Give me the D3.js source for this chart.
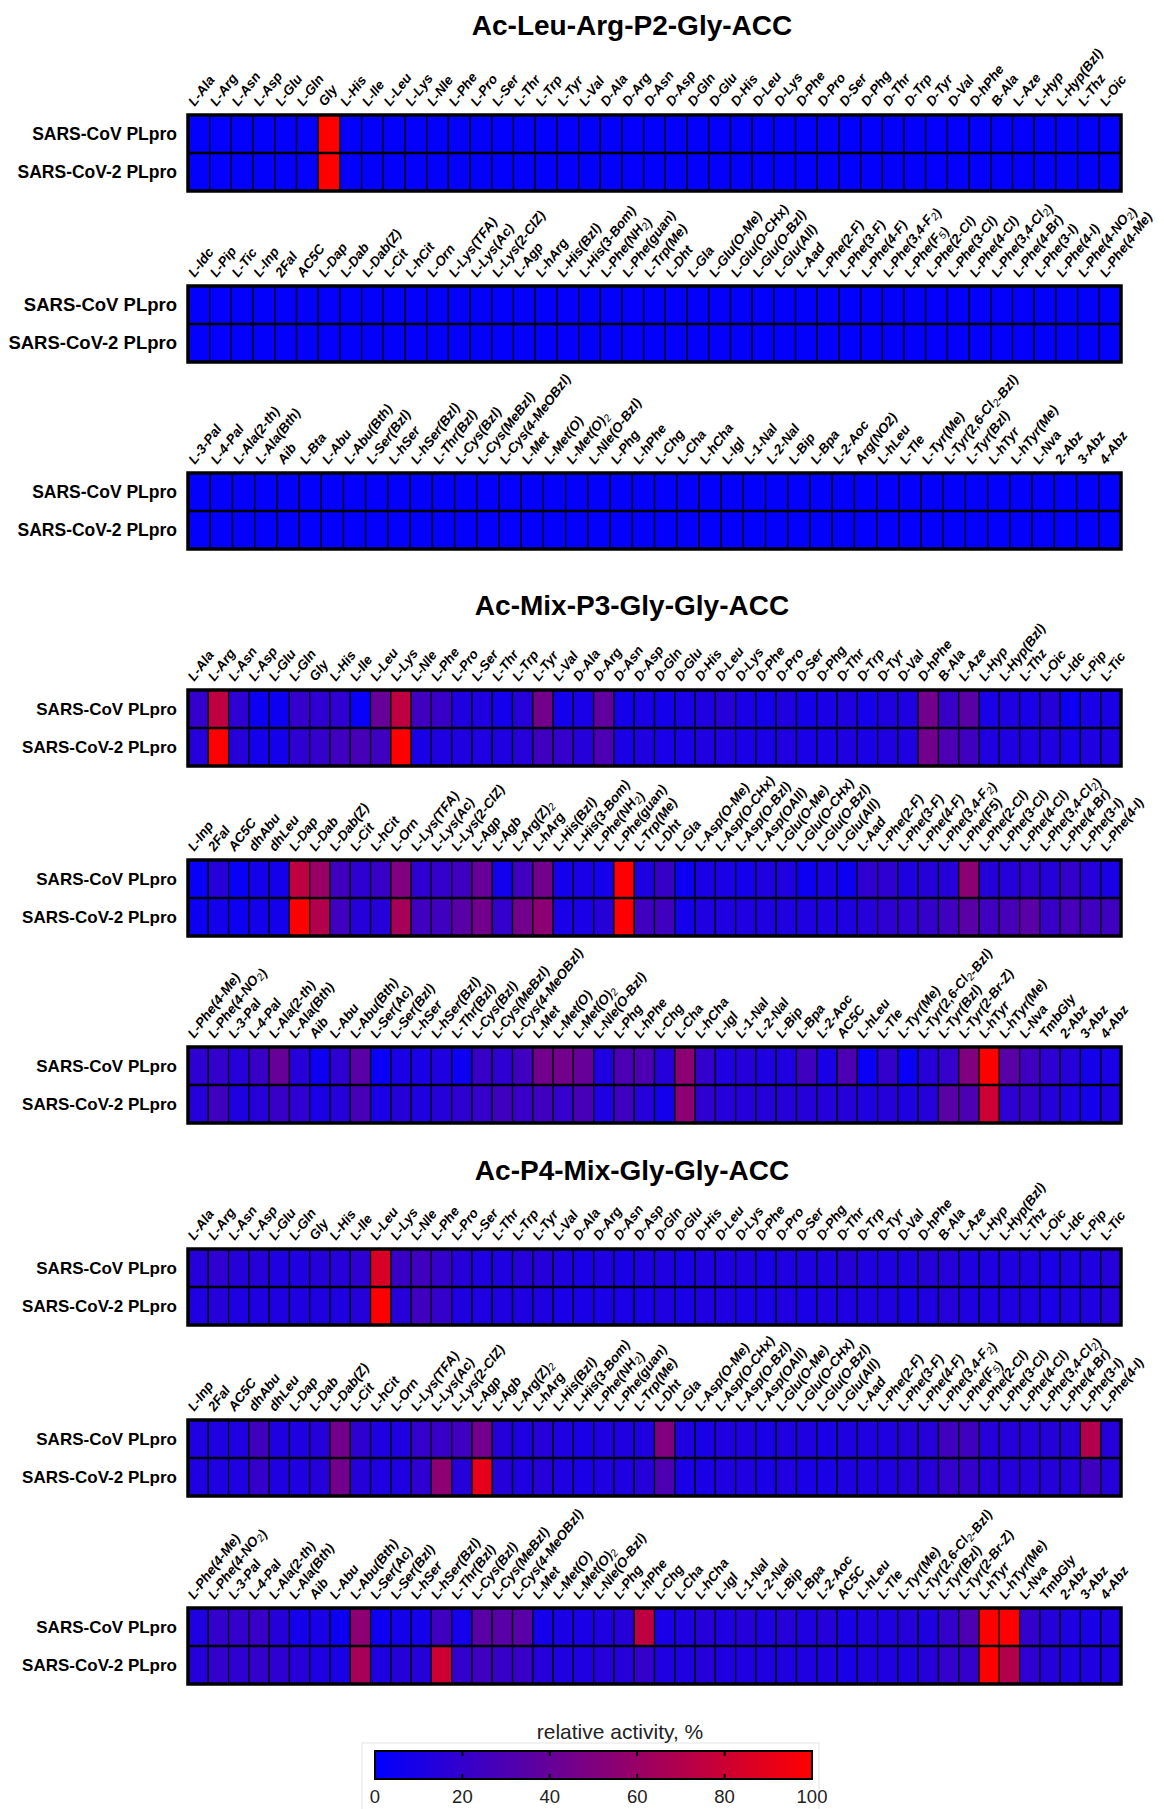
<!DOCTYPE html>
<html><head><meta charset="utf-8">
<script src="https://cdn.jsdelivr.net/npm/d3@7"></script>
<style>body{margin:0;background:#fff;} svg{display:block;}</style>
</head><body>
<script>
// ---------- DATA ----------
const enzymes = ["SARS-CoV PLpro", "SARS-CoV-2 PLpro"];
const titles = ["Ac-Leu-Arg-P2-Gly-ACC", "Ac-Mix-P3-Gly-Gly-ACC", "Ac-P4-Mix-Gly-Gly-ACC"];

const catsP2a = ["L-Ala","L-Arg","L-Asn","L-Asp","L-Glu","L-Gln","Gly","L-His","L-Ile","L-Leu","L-Lys","L-Nle","L-Phe","L-Pro","L-Ser","L-Thr","L-Trp","L-Tyr","L-Val","D-Ala","D-Arg","D-Asn","D-Asp","D-Gln","D-Glu","D-His","D-Leu","D-Lys","D-Phe","D-Pro","D-Ser","D-Phg","D-Thr","D-Trp","D-Tyr","D-Val","D-hPhe","B-Ala","L-Aze","L-Hyp","L-Hyp(Bzl)","L-Thz","L-Oic"];
const catsP2b = ["L-Idc","L-Pip","L-Tic","L-Inp","2Fal","AC5C","L-Dap","L-Dab","L-Dab(Z)","L-Cit","L-hCit","L-Orn","L-Lys(TFA)","L-Lys(Ac)","L-Lys(2-ClZ)","L-Agp","L-hArg","L-His(Bzl)","L-His(3-Bom)","L-Phe(NH_2)","L-Phe(guan)","L-Trp(Me)","L-Dht","L-Gla","L-Glu(O-Me)","L-Glu(O-CHx)","L-Glu(O-Bzl)","L-Glu(All)","L-Aad","L-Phe(2-F)","L-Phe(3-F)","L-Phe(4-F)","L-Phe(3,4-F_2)","L-Phe(F_5)","L-Phe(2-Cl)","L-Phe(3-Cl)","L-Phe(4-Cl)","L-Phe(3,4-Cl_2)","L-Phe(4-Br)","L-Phe(3-I)","L-Phe(4-I)","L-Phe(4-NO_2)","L-Phe(4-Me)"];
const catsP2c = ["L-3-Pal","L-4-Pal","L-Ala(2-th)","L-Ala(Bth)","Aib","L-Bta","L-Abu","L-Abu(Bth)","L-Ser(Bzl)","L-hSer","L-hSer(Bzl)","L-Thr(Bzl)","L-Cys(Bzl)","L-Cys(MeBzl)","L-Cys(4-MeOBzl)","L-Met","L-Met(O)","L-Met(O)_2","L-Nle(O-Bzl)","L-Phg","L-hPhe","L-Chg","L-Cha","L-hCha","L-Igl","L-1-Nal","L-2-Nal","L-Bip","L-Bpa","L-2-Aoc","Arg(NO2)","L-hLeu","L-Tle","L-Tyr(Me)","L-Tyr(2,6-Cl_2-Bzl)","L-Tyr(Bzl)","L-hTyr","L-hTyr(Me)","L-Nva","2-Abz","3-Abz","4-Abz"];
const catsMixA = ["L-Ala","L-Arg","L-Asn","L-Asp","L-Glu","L-Gln","Gly","L-His","L-Ile","L-Leu","L-Lys","L-Nle","L-Phe","L-Pro","L-Ser","L-Thr","L-Trp","L-Tyr","L-Val","D-Ala","D-Arg","D-Asn","D-Asp","D-Gln","D-Glu","D-His","D-Leu","D-Lys","D-Phe","D-Pro","D-Ser","D-Phg","D-Thr","D-Trp","D-Tyr","D-Val","D-hPhe","B-Ala","L-Aze","L-Hyp","L-Hyp(Bzl)","L-Thz","L-Oic","L-Idc","L-Pip","L-Tic"];
const catsMixB = ["L-Inp","2Fal","AC5C","dhAbu","dhLeu","L-Dap","L-Dab","L-Dab(Z)","L-Cit","L-hCit","L-Orn","L-Lys(TFA)","L-Lys(Ac)","L-Lys(2-ClZ)","L-Agp","L-Agb","L-Arg(Z)_2","L-hArg","L-His(Bzl)","L-His(3-Bom)","L-Phe(NH_2)","L-Phe(guan)","L-Trp(Me)","L-Dht","L-Gla","L-Asp(O-Me)","L-Asp(O-CHx)","L-Asp(O-Bzl)","L-Asp(OAll)","L-Glu(O-Me)","L-Glu(O-CHx)","L-Glu(O-Bzl)","L-Glu(All)","L-Aad","L-Phe(2-F)","L-Phe(3-F)","L-Phe(4-F)","L-Phe(3,4-F_2)","L-Phe(F5)","L-Phe(2-Cl)","L-Phe(3-Cl)","L-Phe(4-Cl)","L-Phe(3,4-Cl_2)","L-Phe(4-Br)","L-Phe(3-I)","L-Phe(4-I)"];
const catsMixC = ["L-Phe(4-Me)","L-Phe(4-NO_2)","L-3-Pal","L-4-Pal","L-Ala(2-th)","L-Ala(Bth)","Aib","L-Abu","L-Abu(Bth)","L-Ser(Ac)","L-Ser(Bzl)","L-hSer","L-hSer(Bzl)","L-Thr(Bzl)","L-Cys(Bzl)","L-Cys(MeBzl)","L-Cys(4-MeOBzl)","L-Met","L-Met(O)","L-Met(O)_2","L-Nle(O-Bzl)","L-Phg","L-hPhe","L-Chg","L-Cha","L-hCha","L-Igl","L-1-Nal","L-2-Nal","L-Bip","L-Bpa","L-2-Aoc","AC5C","L-hLeu","L-Tle","L-Tyr(Me)","L-Tyr(2,6-Cl_2-Bzl)","L-Tyr(Bzl)","L-Tyr(2-Br-Z)","L-hTyr","L-hTyr(Me)","L-Nva","TmbGly","2-Abz","3-Abz","4-Abz"];
const catsMixB8 = catsMixB.map(c => c === "L-Phe(F5)" ? "L-Phe(F_5)" : c);

const colorTicks = [0, 20, 40, 60, 80, 100];

// relative activity, % (row 0 = SARS-CoV PLpro, row 1 = SARS-CoV-2 PLpro)
const p2a_cov  = [1,1,1,1,1,1,100,1,1,1,1,1,1,1,1,1,1,1,1,1,1,1,1,1,1,1,1,1,1,1,1,1,1,1,1,1,1,1,1,1,1,1,1];
const p2a_cov2 = [1,1,1,1,1,1,100,1,1,1,1,1,1,1,1,1,1,1,1,1,1,1,1,1,1,1,1,1,1,1,1,1,1,1,1,1,1,1,1,1,1,1,1];
const p2b_cov  = [1,1,1,1,1,1,1,1,1,1,1,1,1,1,1,1,1,1,1,1,1,1,1,1,1,1,1,1,1,1,1,1,1,1,1,1,1,1,1,1,1,1,1];
const p2b_cov2 = [1,1,1,1,1,1,1,1,1,1,1,1,1,1,1,1,1,1,1,1,1,1,1,1,1,1,1,1,1,1,1,1,1,1,1,1,1,1,1,1,1,1,1];
const p2c_cov  = [1,1,1,1,1,1,1,1,1,1,1,1,1,1,1,1,1,1,1,1,1,1,1,1,1,1,1,1,1,1,1,1,1,1,1,1,1,1,1,1,1,1];
const p2c_cov2 = [1,1,1,1,1,1,1,1,1,1,1,1,1,1,1,1,1,1,1,1,1,1,1,1,1,1,1,1,1,1,1,1,1,1,1,1,1,1,1,1,1,1];

const p3a_cov  = [20,75,18,5,5,20,18,18,3,40,75,25,22,12,12,8,15,45,8,10,38,8,10,8,10,12,15,10,8,12,8,10,12,8,12,12,45,22,35,10,12,10,15,5,10,10];
const p3a_cov2 = [15,100,15,8,8,18,20,25,28,25,100,10,12,12,12,12,15,25,20,15,30,10,12,10,10,12,12,10,10,12,10,10,12,10,12,12,45,30,25,12,12,12,12,10,12,12];
const p3b_cov  = [3,15,3,8,8,75,60,25,18,22,50,18,20,25,40,8,25,45,8,10,8,100,12,22,5,10,10,8,12,12,5,10,5,18,18,12,15,15,55,15,15,18,15,20,15,10];
const p3b_cov2 = [5,8,5,8,8,100,70,25,15,15,65,25,25,35,45,20,45,55,10,10,15,100,25,25,8,12,12,12,12,12,12,12,12,15,18,18,20,25,35,25,28,35,22,28,25,25];
const p3c_cov  = [18,20,15,22,40,15,5,18,35,3,10,10,12,5,22,18,25,45,45,40,12,30,30,15,55,20,12,15,12,12,25,10,30,3,20,3,15,20,50,100,35,25,18,15,8,10];
const p3c_cov2 = [15,25,12,15,22,18,10,15,28,10,15,12,15,18,20,25,22,25,20,28,12,25,15,8,55,18,15,15,15,15,15,15,15,12,15,12,15,35,30,80,18,20,15,12,8,12];

const p4a_cov  = [15,18,15,15,12,12,15,15,18,85,22,25,20,15,12,12,15,15,12,10,12,10,12,12,10,12,12,12,10,12,12,12,15,12,12,12,15,15,12,12,12,12,10,12,12,15];
const p4a_cov2 = [12,15,12,12,12,12,12,12,15,100,15,25,20,12,12,12,12,12,10,10,10,10,10,12,10,12,12,10,10,12,10,12,12,12,12,10,12,15,12,12,12,12,10,12,12,15];
const p4b_cov  = [12,12,12,25,12,12,15,45,18,12,12,20,22,25,45,15,12,15,12,10,12,12,12,50,12,10,12,12,10,12,12,10,12,12,12,15,15,25,25,15,15,15,15,15,70,15];
const p4b_cov2 = [12,12,12,20,12,12,15,45,15,12,12,18,55,15,90,15,12,15,12,10,12,12,15,30,10,10,12,12,10,12,10,10,12,12,12,15,15,20,20,15,15,15,15,15,25,15];
const p4c_cov  = [12,20,20,22,15,8,10,5,55,5,8,8,25,8,35,35,35,8,10,10,12,15,75,10,12,15,12,15,12,15,12,15,10,12,12,15,12,20,30,100,100,20,15,12,10,12];
const p4c_cov2 = [15,20,18,20,18,15,12,10,65,12,15,15,80,20,25,22,22,15,12,12,15,15,20,12,12,15,12,12,12,12,12,12,10,12,12,12,15,20,20,100,70,18,15,12,12,12];

// ---------- LAYOUT ----------
const W = 1164, H = 1809;
const X0 = 188, X1 = 1121, BH = 76;
const blocks = [
  {top:115,  cats:catsP2a,  vals:[p2a_cov, p2a_cov2], rs:17.5},
  {top:286,  cats:catsP2b,  vals:[p2b_cov, p2b_cov2], rs:18.5},
  {top:473,  cats:catsP2c,  vals:[p2c_cov, p2c_cov2], rs:17.5},
  {top:690,  cats:catsMixA, vals:[p3a_cov, p3a_cov2], rs:17},
  {top:860,  cats:catsMixB, vals:[p3b_cov, p3b_cov2], rs:17},
  {top:1047, cats:catsMixC, vals:[p3c_cov, p3c_cov2], rs:17},
  {top:1249, cats:catsMixA, vals:[p4a_cov, p4a_cov2], rs:17},
  {top:1420, cats:catsMixB8,vals:[p4b_cov, p4b_cov2], rs:17},
  {top:1608, cats:catsMixC, vals:[p4c_cov, p4c_cov2], rs:17}
];
const titleY = [35, 615, 1180];

const color = d3.scaleLinear().domain([0,100]).range(["#0000ff","#ff0000"]).interpolate(d3.interpolateRgb);

const svg = d3.select("body").append("svg").attr("width", W).attr("height", H)
  .style("font-family", "'Liberation Sans', Arial, sans-serif");

svg.selectAll("text.title").data(titles).join("text")
  .attr("class","title").attr("x", 632).attr("y", (d,i)=>titleY[i])
  .attr("text-anchor","middle").attr("font-weight","bold").attr("font-size", 28)
  .text(d=>d);

function addLabel(sel, str){
  const parts = str.split(/_(\d)/);
  parts.forEach((p,i)=>{
    if(!p) return;
    if(i%2===1){
      sel.append("tspan").attr("font-weight","normal").attr("font-size",10.5).attr("dy",3).text(p);
      sel.append("tspan").attr("dy",-3).text("");
    } else sel.append("tspan").text(p);
  });
}

blocks.forEach(b=>{
  const g = svg.append("g");
  const x = d3.scaleBand().domain(b.cats).range([X0, X1]);
  const y = d3.scaleBand().domain(enzymes).range([b.top, b.top+BH]);
  const cells = [];
  enzymes.forEach((e,ri)=> b.cats.forEach((c,ci)=> cells.push({e, c, v:b.vals[ri][ci]})));
  g.selectAll("rect.cell").data(cells).join("rect").attr("class","cell")
    .attr("x", d=>x(d.c)).attr("y", d=>y(d.e))
    .attr("width", x.bandwidth()).attr("height", y.bandwidth())
    .attr("fill", d=>color(d.v)).attr("stroke","#000").attr("stroke-width",1.2);
  g.append("line").attr("x1",X0).attr("x2",X1).attr("y1",b.top+BH/2).attr("y2",b.top+BH/2)
    .attr("stroke","#000").attr("stroke-width",2.5);
  g.append("rect").attr("x",X0).attr("y",b.top).attr("width",X1-X0).attr("height",BH)
    .attr("fill","none").attr("stroke","#000").attr("stroke-width",3.5);
  // row labels
  g.selectAll("text.row").data(enzymes).join("text").attr("class","row")
    .attr("x", 177).attr("y", d=>y(d)+y.bandwidth()/2+6)
    .attr("text-anchor","end").attr("font-weight","bold").attr("font-size",b.rs)
    .text(d=>d);
  // column labels
  g.selectAll("text.col").data(b.cats).join("text").attr("class","col")
    .attr("transform", d=>`translate(${x(d)+x.bandwidth()/2-4},${b.top-8}) rotate(-53)`)
    .attr("font-weight","bold").attr("font-style","italic").attr("font-size",13.5)
    .each(function(d){ addLabel(d3.select(this), d); });
});

// ---------- COLORBAR ----------
const cbX0 = 375, cbX1 = 812, cbY = 1751, cbH = 28;
const defs = svg.append("defs");
const grad = defs.append("linearGradient").attr("id","cb").attr("x1","0%").attr("x2","100%");
colorTicks.forEach(t=> grad.append("stop").attr("offset", t+"%").attr("stop-color", color(t)));
svg.append("rect").attr("x",362).attr("y",1743).attr("width",457).attr("height",80)
  .attr("fill","#fff").attr("stroke","#e4e4e4").attr("stroke-width",1);
const cx = d3.scaleLinear().domain([0,100]).range([cbX0, cbX1]);
svg.append("rect").attr("x",cbX0).attr("y",cbY).attr("width",cbX1-cbX0).attr("height",cbH)
  .attr("fill","url(#cb)").attr("stroke","#000").attr("stroke-width",2);
const tk = svg.append("g");
colorTicks.slice(1,-1).forEach(t=>{
  tk.append("line").attr("x1",cx(t)).attr("x2",cx(t)).attr("y1",cbY).attr("y2",cbY+5).attr("stroke","#000").attr("stroke-width",2);
  tk.append("line").attr("x1",cx(t)).attr("x2",cx(t)).attr("y1",cbY+cbH-5).attr("y2",cbY+cbH).attr("stroke","#000").attr("stroke-width",2);
});
svg.selectAll("text.ctick").data(colorTicks).join("text").attr("class","ctick")
  .attr("x", d=>cx(d)).attr("y", 1803).attr("text-anchor","middle")
  .attr("font-size",18.5).attr("fill","#222").text(d=>d);
svg.append("text").attr("x",620).attr("y",1739).attr("text-anchor","middle")
  .attr("font-size",21).attr("fill","#222").text("relative activity, %");
</script>
</body></html>
